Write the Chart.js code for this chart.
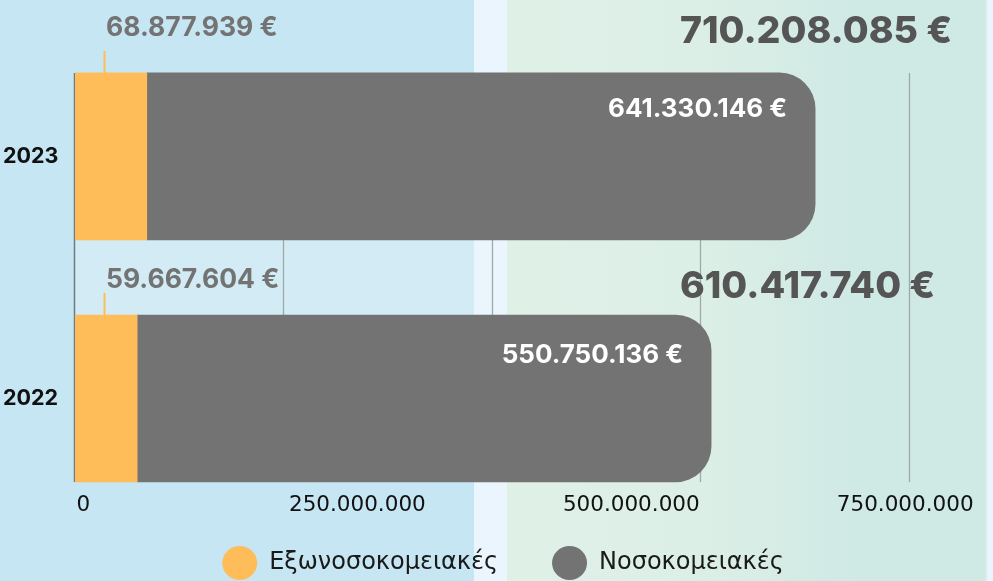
<!DOCTYPE html>
<html lang="el">
<head>
<meta charset="utf-8">
<script src="https://cdn.jsdelivr.net/npm/chart.js@4.4.1/dist/chart.umd.min.js"></script>
<style>
  html, body { margin: 0; padding: 0; width: 993px; height: 581px; overflow: hidden; }
  body {
    position: relative;
    background: linear-gradient(to right,
      #c7e6f3 0, #c7e6f3 474px, #eaf5fd 474px, #eaf5fd 507px,
      #dff0e7 507px, #dcefe6 700px, #cfe9e5 860px, #cfe9e5 985px, #eaf5fd 988px);
  }
  #band { position: absolute; left: 75px; top: 73px; width: 399px; height: 409px; background: rgba(255, 255, 255, 0.2); }
  #wrap { position: absolute; left: 0; top: 0; width: 993px; height: 581px; }
</style>
</head>
<body>
<div id="band"></div>
<div id="wrap"><canvas id="chartDapanes"></canvas></div>
<script>
const years = ['2023', '2022'];
const outpatient = [68877939, 59667604];
const inpatient = [641330146, 550750136];
const totals = [710208085, 610417740];
const axisTicks = [0, 250000000, 500000000, 750000000];
const seriesNames = ['Εξωνοσοκομειακές', 'Νοσοκομειακές'];

const ORANGE = '#ffbd59';
const GREY = '#737373';
const GRID_STEP = 200000000;
// vertical offsets of the value labels, per row (px)
const OFFSETS = { outerRise: [45, 35], innerDrop: [36, 40], totalRise: [41, 28] };

const fmt = (v) => String(Math.round(v)).replace(/\B(?=(\d{3})+(?!\d))/g, '.');

const barDecor = {
  id: 'barDecor',
  beforeDatasetsDraw(chart) {
    const { ctx } = chart;
    const x = chart.scales.x;
    const bars = chart.getDatasetMeta(0).data;
    const top = bars[0].y - bars[0].height / 2;
    const last = bars[bars.length - 1];
    const bottom = last.y + last.height / 2;
    ctx.save();
    ctx.strokeStyle = '#9fa9a9';
    ctx.lineWidth = 1.3;
    for (let v = GRID_STEP; v <= x.max; v += GRID_STEP) {
      const px = Math.round(x.getPixelForValue(v)) + 0.5;
      ctx.beginPath();
      ctx.moveTo(px, top);
      ctx.lineTo(px, bottom);
      ctx.stroke();
    }
    ctx.strokeStyle = '#6f7b82';
    ctx.lineWidth = 1.5;
    const ax = x.getPixelForValue(0) - 0.5;
    ctx.beginPath();
    ctx.moveTo(ax, top);
    ctx.lineTo(ax, bottom);
    ctx.stroke();
    ctx.restore();
  },
  afterDatasetsDraw(chart) {
    const { ctx } = chart;
    const x = chart.scales.x;
    const outer = chart.getDatasetMeta(0).data;
    const inner = chart.getDatasetMeta(1).data;
    ctx.save();
    ctx.textBaseline = 'middle';
    outer.forEach((bar, i) => {
      const top = bar.y - bar.height / 2;
      const lx = Math.round(bar.base + 29) + 0.5;
      ctx.strokeStyle = ORANGE;
      ctx.lineWidth = 2;
      ctx.beginPath();
      ctx.moveTo(lx, top - 22);
      ctx.lineTo(lx, top);
      ctx.stroke();

      ctx.fillStyle = '#737373';
      ctx.font = 'bold 26.5px Inter';
      ctx.textAlign = 'left';
      ctx.fillText(fmt(outpatient[i]) + ' €', bar.base + 31, top - OFFSETS.outerRise[i]);

      ctx.fillStyle = '#555555';
      ctx.font = '800 37.5px Inter';
      ctx.fillText(fmt(totals[i]) + ' €', x.getPixelForValue(0) + 605, top - OFFSETS.totalRise[i]);
    });
    inner.forEach((bar, i) => {
      const top = bar.y - bar.height / 2;
      ctx.fillStyle = '#ffffff';
      ctx.font = 'bold 26px Inter';
      ctx.textAlign = 'right';
      ctx.fillText(fmt(inpatient[i]) + ' €', bar.x - 28, top + OFFSETS.innerDrop[i]);
    });
    ctx.restore();
  },
};

new Chart(document.getElementById('chartDapanes').getContext('2d'), {
  type: 'bar',
  data: {
    labels: years,
    datasets: [
      {
        label: seriesNames[0],
        data: outpatient,
        backgroundColor: ORANGE,
        barThickness: 167,
        xAxisID: 'x',
        yAxisID: 'y',
      },
      {
        label: seriesNames[1],
        data: inpatient,
        backgroundColor: GREY,
        borderRadius: 36,
        barThickness: 167,
        xAxisID: 'x',
        yAxisID: 'y',
      },
    ],
  },
  options: {
    indexAxis: 'y',
    responsive: true,
    maintainAspectRatio: false,
    animation: false,
    layout: { padding: { top: 40, right: 3, left: 16, bottom: 0 } },
    scales: {
      x: {
        type: 'linear',
        stacked: true,
        display: false,
        min: 0,
        max: 878000000,
      },
      x2: {
        type: 'linear',
        axis: 'x',
        position: 'bottom',
        min: -7700000,
        max: 827400000,
        grid: { display: false, drawTicks: false },
        border: { display: false },
        afterBuildTicks(scale) {
          scale.ticks = axisTicks.map((v) => ({ value: v }));
        },
        afterFit(scale) {
          scale.height = 0;
        },
        ticks: {
          mirror: true,
          padding: -21,
          color: '#111111',
          maxRotation: 0,
          autoSkip: false,
          font: { family: 'DejaVu Sans', size: 21.5 },
          callback: (v) => fmt(v),
        },
      },
      y: {
        type: 'linear',
        stacked: true,
        offset: false,
        min: 2021.593,
        max: 2023.481,
        grid: { display: false, drawTicks: false },
        border: { display: false },
        afterBuildTicks(scale) {
          scale.ticks = years.map((y) => ({ value: Number(y) }));
        },
        afterFit(scale) {
          scale.width = 59;
        },
        ticks: {
          mirror: true,
          crossAlign: 'near',
          padding: -72,
          color: '#111111',
          font: { family: 'Inter', size: 21.5, weight: 'bold' },
          callback: (v) => String(v),
        },
      },
    },
    plugins: {
      legend: {
        position: 'bottom',
        maxHeight: 84,
        labels: {
          usePointStyle: true,
          pointStyle: 'circle',
          pointStyleWidth: 35,
          padding: 54,
          color: '#1a1a1a',
          font: { family: 'DejaVu Sans', size: 24 },
        },
      },
      tooltip: {
        callbacks: {
          label(context) {
            return `${context.dataset.label}: ${fmt(context.parsed.x)} €`;
          },
        },
      },
    },
  },
  plugins: [barDecor],
});
</script>
</body>
</html>
